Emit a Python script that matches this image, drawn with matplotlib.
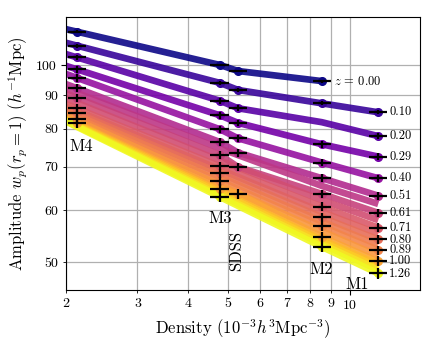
import numpy as np
import matplotlib
matplotlib.use('Agg')
import matplotlib.pyplot as plt
from matplotlib.ticker import FuncFormatter

plt.rcParams['font.family'] = 'serif'
plt.rcParams['font.serif'] = ['cmr10']
plt.rcParams['mathtext.fontset'] = 'cm'
plt.rcParams['axes.unicode_minus'] = False
plt.rcParams['axes.formatter.use_mathtext'] = True

# sample densities (10^-3 h^3 Mpc^-3)
dens_edge = 2.0
dens_m4, dens_m3, dens_sdss, dens_m2, dens_m1 = 2.13, 4.79, 5.31, 8.54, 11.76
xerr_m4, xerr_m3, xerr_sdss, xerr_m2, xerr_m1 = 0.11, 0.25, 0.27, 0.44, 0.60

# labelled redshifts
z_lab = [0.00, 0.10, 0.20, 0.29, 0.40, 0.51, 0.61, 0.71, 0.80, 0.89, 1.00, 1.26]
amp_edge = [113.4, 108.1, 103.9, 99.7, 96.9, 93.5, 90.5, 87.2, 85.8, 84.3, 82.9, 82.0]
amp_m4 = [112.4, 107.0, 102.7, 98.5, 95.5, 92.1, 89.1, 85.9, 84.4, 82.7, 81.5, np.nan]
amp_m3 = [100.0, 93.9, 88.2, 83.8, 79.8, 76.3, 72.9, 70.1, 68.4, 66.5, 64.7, 62.9]
amp_sdss = [97.9, 91.6, 85.9, 81.6, 77.3, 73.5, 69.9, np.nan, np.nan, np.nan, 63.6, np.nan]
amp_m2 = [94.5, 87.4, 81.8, 75.7, 71.0, 67.2, 63.6, 60.8, 58.6, 56.8, 54.7, 52.8]
m2_marked = [1, 1, 0, 1, 1, 1, 1, 1, 1, 1, 1, 1]
amp_m1 = [np.nan, 84.7, 77.9, 72.5, 67.2, 63.2, 59.5, 56.5, 54.2, 52.2, 50.2, 48.1]
yerr_pct = [0.5, 0.7, 1.0, 1.2, 1.3, 1.4, 1.5, 1.5, 1.6, 1.6, 1.7, 1.8]

# other snapshots (no samples)
z_ext = [0.56, 0.66, 0.75, 0.85, 0.95, 1.07, 1.13, 1.20]
ext_edge = [92.0, 88.9, 86.5, 85.1, 83.7, 82.7, 82.4, 82.2]
ext_m3 = [74.6, 71.5, 69.3, 67.5, 65.6, 64.2, 63.8, 63.3]
ext_m2 = [65.4, 62.2, 59.7, 57.7, 55.8, 54.2, 53.8, 53.3]
ext_m1 = [61.4, 58.0, 55.3, 53.2, 51.2, 49.7, 49.2, 48.7]

cmap = plt.get_cmap('plasma')
norm = plt.Normalize(0, 1.26)

fig = plt.figure(figsize=(4.43, 3.54), dpi=100)
ax = fig.add_axes([0.149, 0.181, 0.799, 0.77])
ax.set_xscale('log')
ax.set_yscale('log')

lines = []
for i, z in enumerate(z_lab):
    xs = [dens_edge, dens_m3, dens_sdss, dens_m2, dens_m1]
    ys = [amp_edge[i], amp_m3[i], amp_sdss[i], amp_m2[i], amp_m1[i]]
    lines.append((z, xs, ys))
for i, z in enumerate(z_ext):
    lines.append((z, [dens_edge, dens_m3, dens_m2, dens_m1],
                  [ext_edge[i], ext_m3[i], ext_m2[i], ext_m1[i]]))
lines.sort(key=lambda t: t[0])

for z, xs, ys in lines:
    xs = np.array(xs)
    ys = np.array(ys)
    ok = ~np.isnan(ys)
    ax.plot(xs[ok], ys[ok], color=cmap(norm(z)), lw=4.8, alpha=0.9,
            solid_capstyle='butt', zorder=2)

# sample points
cols = [(dens_m4, xerr_m4, amp_m4, None), (dens_m3, xerr_m3, amp_m3, None),
        (dens_sdss, xerr_sdss, amp_sdss, None), (dens_m2, xerr_m2, amp_m2, m2_marked),
        (dens_m1, xerr_m1, amp_m1, None)]
for d, xe, amps, mask in cols:
    for i, z in enumerate(z_lab):
        a = amps[i]
        if np.isnan(a) or (mask is not None and not mask[i]):
            continue
        ax.plot(d, a, 'o', color=cmap(norm(z)), ms=5.5, zorder=3)
        ax.errorbar(d, a, xerr=xe, yerr=a * yerr_pct[i] / 100, fmt='none',
                    ecolor='black', elinewidth=1.6, capsize=0, zorder=4)

# redshift labels
for i, z in enumerate(z_lab):
    if i == 0:
        ax.annotate(r'$z$ = 0.00', (dens_m2, amp_m2[0]), xytext=(9, 0),
                    textcoords='offset points', va='center', fontsize=9)
    else:
        ax.annotate(f'{z:.2f}', (dens_m1, amp_m1[i]), xytext=(8, 0),
                    textcoords='offset points', va='center', fontsize=9,
                    annotation_clip=False)

ax.text(2.04, 75.2, 'M4', ha='left', va='center', fontsize=12)
ax.text(dens_m3, 58.4, 'M3', ha='center', va='center', fontsize=12)
ax.text(5.26, 52.0, 'SDSS', ha='center', va='center', rotation=90, fontsize=12)
ax.text(8.52, 48.75, 'M2', ha='center', va='center', fontsize=12)
ax.text(10.45, 46.3, 'M1', ha='center', va='center', fontsize=12)

ax.set_xlim(2, 14.9)
ax.set_ylim(45.4, 118.2)
fmt = FuncFormatter(lambda v, p: f'{v:g}')
ax.xaxis.set_major_formatter(fmt)
ax.xaxis.set_minor_formatter(fmt)
ax.yaxis.set_major_formatter(fmt)
ax.yaxis.set_minor_formatter(fmt)
ax.tick_params(which='both', labelsize=10)
ax.grid(True, which='both', color='#b0b0b0', lw=0.9, zorder=0)
ax.set_axisbelow(True)

ax.set_xlabel(r'Density $(10^{-3}h^3\mathrm{Mpc}^{-3})$', fontsize=12)
ax.set_ylabel(r'Amplitude $w_p(r_p = 1)$ $(h^{-1}\mathrm{Mpc})$', fontsize=12)

fig.savefig('out.png', dpi=100)
